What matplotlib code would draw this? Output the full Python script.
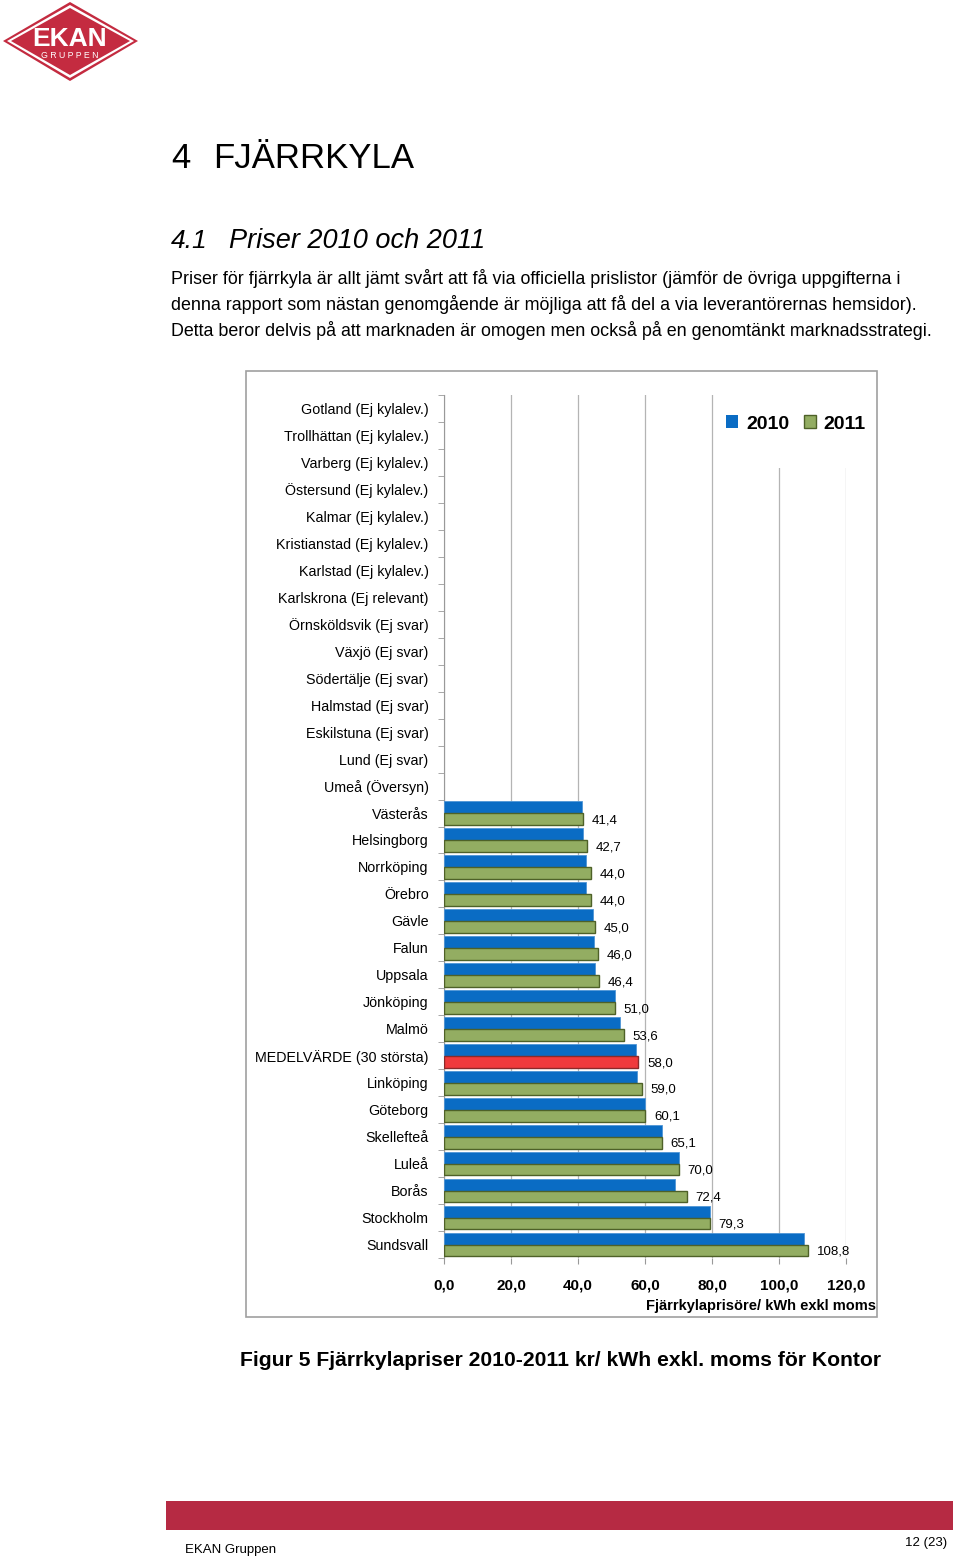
import numpy as np
import matplotlib
matplotlib.use("Agg")
import matplotlib.pyplot as plt
from matplotlib.patches import Rectangle, Polygon, Patch

plt.rcParams['font.family'] = ['Liberation Sans', 'DejaVu Sans']

W, H = 960, 1560

# data
orter = ["Gotland (Ej kylalev.)", "Trollhättan (Ej kylalev.)", "Varberg (Ej kylalev.)",
         "Östersund (Ej kylalev.)", "Kalmar (Ej kylalev.)", "Kristianstad (Ej kylalev.)",
         "Karlstad (Ej kylalev.)", "Karlskrona (Ej relevant)", "Örnsköldsvik (Ej svar)",
         "Växjö (Ej svar)", "Södertälje (Ej svar)", "Halmstad (Ej svar)",
         "Eskilstuna (Ej svar)", "Lund (Ej svar)", "Umeå (Översyn)",
         "Västerås", "Helsingborg", "Norrköping", "Örebro", "Gävle", "Falun",
         "Uppsala", "Jönköping", "Malmö", "MEDELVÄRDE (30 största)", "Linköping",
         "Göteborg", "Skellefteå", "Luleå", "Borås", "Stockholm", "Sundsvall"]
nan = np.nan
pris_2010 = [nan] * 15 + [41.2, 41.5, 42.5, 42.5, 44.6, 44.9, 45.2, 51.0, 52.4,
                          57.3, 57.6, 60.0, 65.0, 70.0, 68.9, 79.4, 107.5]
pris_2011 = [nan] * 15 + [41.4, 42.7, 44.0, 44.0, 45.0, 46.0, 46.4, 51.0, 53.6,
                          58.0, 59.0, 60.1, 65.1, 70.0, 72.4, 79.3, 108.8]
medel = "MEDELVÄRDE (30 största)"

blue = '#0a6cc4'
green = '#93ad62'
red = '#f03a3c'


def fx(x):
    return x / W


def fy(y):
    return 1 - y / H


fig = plt.figure(figsize=(9.6, 15.6), dpi=100)

# ---- logo
def poly(pts, **kw):
    fig.patches.append(Polygon([(fx(a), fy(b)) for a, b in pts], closed=True,
                               transform=fig.transFigure, **kw))

poly([(3, 41), (70, 2), (138, 41), (70, 81)], facecolor='#c42b40', edgecolor='none')
poly([(7, 41), (70, 5), (134, 41), (70, 78)], facecolor='white', edgecolor='none')
poly([(11, 41), (70, 8), (130, 41), (70, 75)], facecolor='#c42b40', edgecolor='none')
fig.text(fx(70), fy(39), "EKAN", color='white', fontsize=19, fontweight='bold',
         ha='center', va='center')
fig.text(fx(70), fy(56), "G R U P P E N", color='white', fontsize=6.3,
         ha='center', va='center')

# ---- page text
fig.text(fx(171), fy(159), "4", fontsize=25, va='center')
fig.text(fx(213), fy(159), "FJÄRRKYLA", fontsize=25, va='center')
fig.text(fx(171), fy(241), "4.1", fontsize=19, style='italic', va='center')
fig.text(fx(229), fy(241), "Priser 2010 och 2011", fontsize=19.5, style='italic', va='center')

brodtext = ["Priser för fjärrkyla är allt jämt svårt att få via officiella prislistor (jämför de övriga uppgifterna i",
            "denna rapport som nästan genomgående är möjliga att få del a via leverantörernas hemsidor).",
            "Detta beror delvis på att marknaden är omogen men också på en genomtänkt marknadsstrategi."]
for i, rad in enumerate(brodtext):
    fig.text(fx(171), fy(279 + 25.5 * i), rad, fontsize=12.9, va='center')

# ---- chart frame
fig.patches.append(Rectangle((fx(246), fy(1317)), fx(877) - fx(246), fy(371) - fy(1317),
                             transform=fig.transFigure, facecolor='none',
                             edgecolor='#a0a0a0', linewidth=1.2))

ax = fig.add_axes([fx(444), fy(1258), fx(846) - fx(444), fy(395) - fy(1258)])
y = np.arange(len(orter))
h = 0.44
for i in range(len(orter)):
    if np.isnan(pris_2010[i]):
        continue
    ax.barh(y[i] - h / 2, pris_2010[i], height=h, color=blue, edgecolor='#4f95d6',
            linewidth=0.6, zorder=3)
    c2 = red if orter[i] == medel else green
    e2 = '#8a2a2a' if orter[i] == medel else '#4e6128'
    ax.barh(y[i] + h / 2, pris_2011[i], height=h, color=c2, edgecolor=e2,
            linewidth=1.0, zorder=3)
    ax.text(pris_2011[i] + 2.6, y[i] + h / 2 + 0.05, f"{pris_2011[i]:.1f}".replace('.', ','),
            fontsize=9.5, va='center', ha='left', zorder=4, clip_on=False)

ax.set_ylim(len(orter) - 0.5, -0.5)
ax.set_xlim(0, 120)
ax.set_xticks(np.arange(0, 121, 20))
ax.set_xticklabels([f"{v:.1f}".replace('.', ',') for v in np.arange(0, 121, 20)],
                   fontsize=11, fontweight='bold')
ax.set_yticks(y)
ax.set_yticklabels(orter, fontsize=10.3)
ax.set_yticks(np.arange(-0.5, len(orter), 1), minor=True)
ax.tick_params(axis='y', which='major', length=0, pad=11)
ax.tick_params(axis='y', which='minor', length=4, color='#999999', direction='out')
ax.tick_params(axis='x', length=4, color='#999999', direction='out', pad=11)
ax.grid(axis='x', color='#b4b4b4', linewidth=0.9, zorder=0)
ax.set_axisbelow(True)
for s in ['top', 'right', 'bottom']:
    ax.spines[s].set_visible(False)
ax.spines['left'].set_color('#999999')

fig.text(fx(876), fy(1306), "Fjärrkylaprisöre/ kWh exkl moms", fontsize=10.5,
         fontweight='bold', ha='right', va='center')

# legend area covering gridlines
fig.patches.append(Rectangle((fx(724), fy(468)), fx(872) - fx(724), fy(390) - fy(468),
                             transform=fig.transFigure, facecolor='white', edgecolor='none'))
handles = [Patch(facecolor=blue, edgecolor='none', label='2010'),
           Patch(facecolor=green, edgecolor='#4e6128', label='2011')]
fig.legend(handles=handles, loc='center', bbox_to_anchor=(fx(796), fy(424)), ncol=2,
           frameon=False, prop={'size': 14, 'weight': 'bold'}, handlelength=0.62,
           handleheight=0.62, handletextpad=0.4, columnspacing=0.75)

# ---- caption and footer
fig.text(fx(560), fy(1360), "Figur 5 Fjärrkylapriser 2010-2011 kr/ kWh exkl. moms för Kontor",
         fontsize=15.2, fontweight='bold', ha='center', va='center')
fig.patches.append(Rectangle((fx(166), fy(1530)), fx(953) - fx(166), fy(1501) - fy(1530),
                             transform=fig.transFigure, facecolor='#b62a43', edgecolor='none'))
fig.text(fx(185), fy(1550), "EKAN Gruppen", fontsize=9.5, va='center')
fig.text(fx(947), fy(1543), "12 (23)", fontsize=9.5, va='center', ha='right')

fig.savefig("out.png", dpi=100)
